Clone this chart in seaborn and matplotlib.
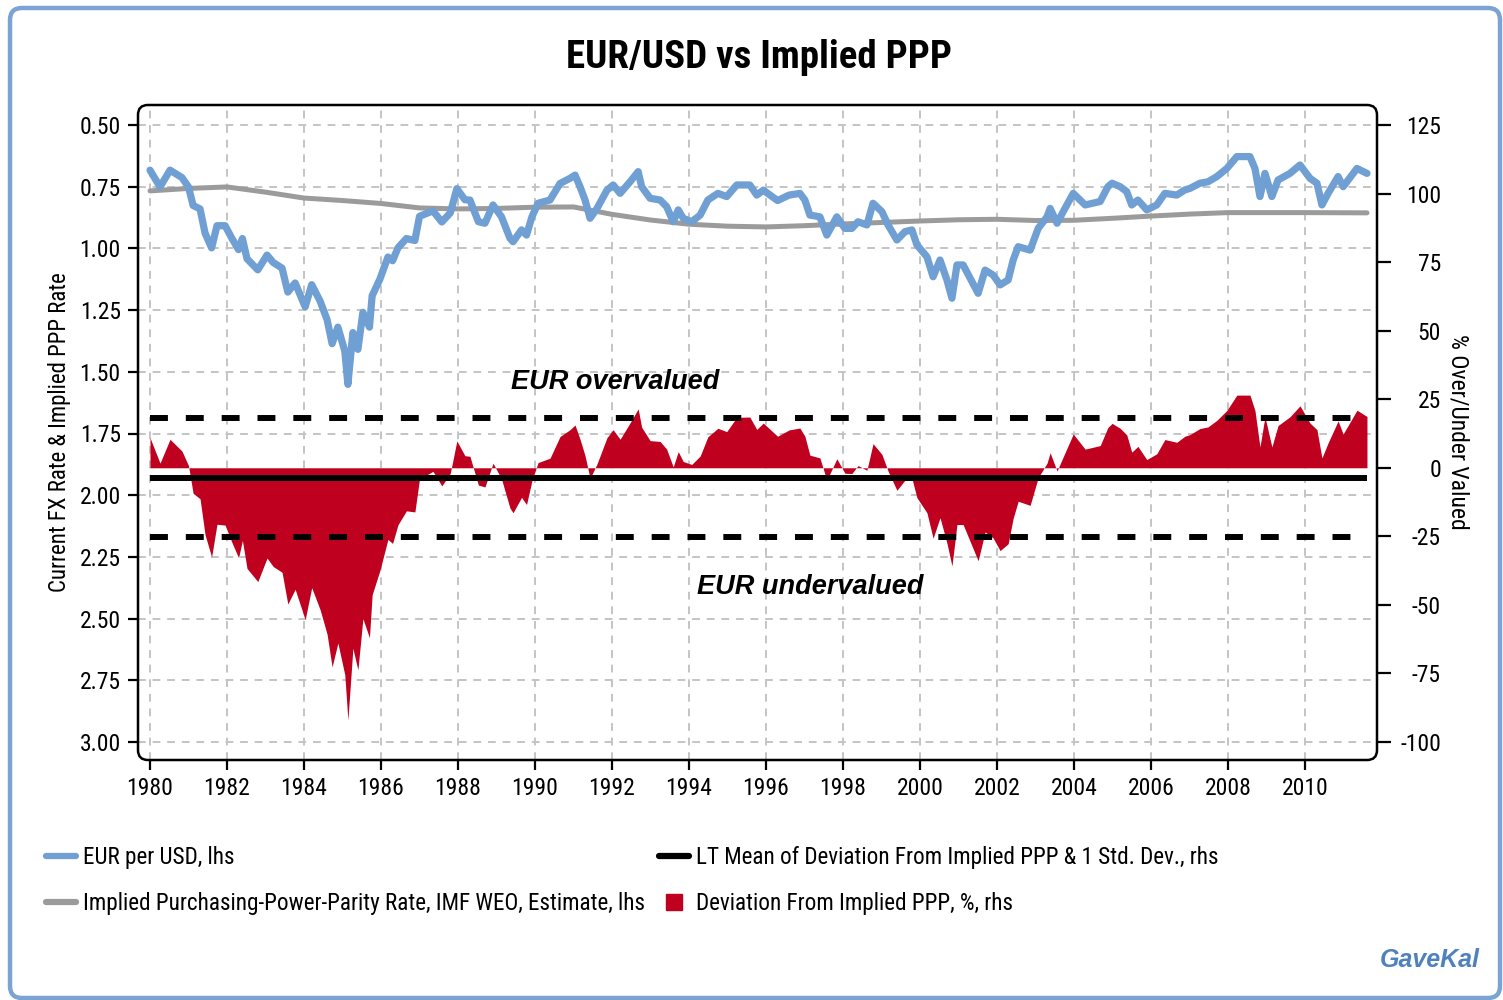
import numpy as np
import pandas as pd
import matplotlib
matplotlib.use("Agg")
import matplotlib.pyplot as plt
import seaborn as sns
from matplotlib import font_manager
from matplotlib.patches import FancyBboxPatch
from matplotlib.lines import Line2D

# ---------------- data ----------------
dates = [1980.00, 1980.26, 1980.52, 1980.83, 1981.00, 1981.12, 1981.30, 1981.43, 1981.60, 1981.74,
         1981.95, 1982.13, 1982.30, 1982.40, 1982.52, 1982.80, 1983.04, 1983.20, 1983.43, 1983.58,
         1983.77, 1984.03, 1984.20, 1984.42, 1984.60, 1984.73, 1984.88, 1985.06, 1985.14, 1985.27,
         1985.40, 1985.53, 1985.70, 1985.77, 1985.97, 1986.18, 1986.30, 1986.44, 1986.66, 1986.88,
         1987.00, 1987.35, 1987.58, 1987.80, 1987.97, 1988.18, 1988.31, 1988.53, 1988.70, 1988.91,
         1989.13, 1989.35, 1989.43, 1989.65, 1989.78, 1989.92, 1990.08, 1990.39, 1990.65, 1990.91,
         1991.04, 1991.17, 1991.30, 1991.43, 1991.61, 1991.87, 1992.03, 1992.21, 1992.47, 1992.68,
         1992.77, 1992.99, 1993.25, 1993.42, 1993.59, 1993.72, 1993.85, 1994.07, 1994.29, 1994.49,
         1994.75, 1994.98, 1995.24, 1995.58, 1995.76, 1995.93, 1996.30, 1996.60, 1996.88, 1997.01,
         1997.14, 1997.40, 1997.58, 1997.84, 1998.05, 1998.23, 1998.39, 1998.62, 1998.78, 1999.01,
         1999.17, 1999.40, 1999.61, 1999.79, 1999.92, 2000.18, 2000.34, 2000.52, 2000.70, 2000.83,
         2000.96, 2001.12, 2001.35, 2001.51, 2001.69, 2001.90, 2002.08, 2002.29, 2002.42, 2002.55,
         2002.86, 2003.07, 2003.30, 2003.38, 2003.56, 2003.72, 2003.98, 2004.29, 2004.68, 2004.88,
         2004.99, 2005.20, 2005.37, 2005.50, 2005.66, 2005.89, 2006.15, 2006.36, 2006.67, 2006.88,
         2007.01, 2007.27, 2007.48, 2007.71, 2007.97, 2008.23, 2008.57, 2008.70, 2008.83, 2008.96,
         2009.14, 2009.30, 2009.61, 2009.87, 2010.13, 2010.31, 2010.44, 2010.60, 2010.86, 2010.99,
         2011.35, 2011.61]

eur_per_usd = [0.683, 0.751, 0.683, 0.713, 0.751, 0.826, 0.840, 0.938, 0.998, 0.908,
               0.908, 0.960, 1.005, 0.960, 1.042, 1.087, 1.027, 1.057, 1.080, 1.177,
               1.140, 1.237, 1.147, 1.214, 1.289, 1.386, 1.319, 1.416, 1.551, 1.341,
               1.409, 1.259, 1.319, 1.192, 1.125, 1.035, 1.050, 0.998, 0.960, 0.968,
               0.870, 0.848, 0.893, 0.856, 0.758, 0.803, 0.804, 0.892, 0.898, 0.824,
               0.872, 0.959, 0.973, 0.925, 0.946, 0.872, 0.817, 0.804, 0.737, 0.716,
               0.703, 0.750, 0.804, 0.878, 0.838, 0.764, 0.743, 0.777, 0.730, 0.689,
               0.750, 0.797, 0.804, 0.831, 0.892, 0.844, 0.878, 0.892, 0.865, 0.804,
               0.777, 0.790, 0.743, 0.743, 0.784, 0.764, 0.806, 0.784, 0.777, 0.804,
               0.865, 0.872, 0.946, 0.872, 0.919, 0.919, 0.892, 0.905, 0.817, 0.851,
               0.905, 0.966, 0.932, 0.925, 0.986, 1.034, 1.115, 1.047, 1.128, 1.202,
               1.067, 1.067, 1.135, 1.182, 1.088, 1.108, 1.148, 1.128, 1.047, 0.993,
               1.007, 0.919, 0.872, 0.838, 0.898, 0.851, 0.777, 0.824, 0.810, 0.750,
               0.736, 0.750, 0.770, 0.824, 0.804, 0.844, 0.824, 0.777, 0.784, 0.763,
               0.757, 0.736, 0.730, 0.709, 0.676, 0.628, 0.628, 0.676, 0.790, 0.696,
               0.790, 0.723, 0.696, 0.662, 0.716, 0.736, 0.824, 0.777, 0.709, 0.750,
               0.676, 0.696]

deviation_pct = [11.0, 1.7, 10.4, 6.1, 0.8, -9.3, -11.3, -24.4, -32.5, -20.6,
                 -20.9, -27.3, -32.8, -26.5, -36.7, -41.5, -32.9, -36.0, -38.1, -49.7,
                 -44.3, -55.4, -43.7, -51.8, -60.7, -72.6, -63.9, -75.5, -92.0, -65.8,
                 -73.7, -55.0, -62.0, -46.3, -37.5, -26.1, -27.6, -20.8, -15.7, -16.1,
                 -4.1, -1.3, -6.6, -2.0, 9.8, 4.4, 4.2, -6.3, -7.0, 1.7,
                 -4.1, -14.7, -16.4, -10.8, -13.4, -4.7, 1.9, 3.5, 11.4, 13.9,
                 15.6, 10.4, 4.4, -3.9, 1.4, 11.0, 13.9, 10.4, 16.4, 21.5,
                 14.8, 9.9, 9.6, 6.8, 0.3, 5.9, 2.3, 1.2, 4.3, 11.3,
                 14.4, 13.2, 18.4, 18.5, 14.0, 16.3, 11.5, 13.8, 14.5, 11.5,
                 4.6, 3.6, -4.6, 3.3, -2.0, -2.1, 0.8, -0.9, 8.8, 4.9,
                 -1.2, -8.2, -4.5, -3.9, -10.9, -16.4, -25.7, -18.2, -27.5, -35.8,
                 -20.7, -20.7, -28.5, -33.9, -23.4, -25.6, -30.2, -27.7, -18.4, -12.2,
                 -13.7, -3.6, 1.7, 5.5, -1.2, 4.0, 12.3, 6.8, 8.1, 14.7,
                 16.2, 14.4, 12.0, 5.7, 7.8, 3.0, 5.1, 10.3, 9.3, 11.5,
                 12.1, 14.3, 14.9, 17.3, 20.9, 26.5, 26.5, 20.9, 7.6, 18.6,
                 7.6, 15.4, 18.6, 22.6, 16.3, 13.9, 3.6, 9.1, 17.1, 12.3,
                 21.0, 18.7]

ppp_years = [1980, 1981, 1982, 1983, 1984, 1985, 1986, 1987, 1988, 1989,
             1990, 1991, 1992, 1993, 1994, 1995, 1996, 1997, 1998, 1999,
             2000, 2001, 2002, 2003, 2004, 2005, 2006, 2007, 2008, 2009,
             2010, 2011.61]
ppp_rate = [0.767, 0.757, 0.751, 0.772, 0.796, 0.806, 0.818, 0.836, 0.840, 0.838,
            0.833, 0.832, 0.862, 0.885, 0.902, 0.910, 0.913, 0.908, 0.901, 0.895,
            0.889, 0.884, 0.882, 0.887, 0.886, 0.878, 0.869, 0.861, 0.855, 0.855,
            0.855, 0.856]

lt_mean = -3.6
lt_std = 21.7

year_ticks = list(range(1980, 2011, 2))
left_ticks = [0.50, 0.75, 1.00, 1.25, 1.50, 1.75, 2.00, 2.25, 2.50, 2.75, 3.00]
right_ticks = [125, 100, 75, 50, 25, 0, -25, -50, -75, -100]

# ---------------- style ----------------
sns.set_theme(style="white")
names = {f.name for f in font_manager.fontManager.ttflist}
MAIN = None
for cand in ["Liberation Sans Narrow", "Roboto Condensed", "Liberation Sans", "DejaVu Sans"]:
    if cand in names:
        MAIN = cand
        break
plt.rcParams["font.family"] = [MAIN, "DejaVu Sans"]
FAM = [MAIN, "DejaVu Sans"]
ITAL = "Liberation Sans" if "Liberation Sans" in names else "DejaVu Sans"

BLUE = "#6f9fd3"
GRAY = "#9b9b9b"
RED = "#c0001f"
GRID = "#c4c4c4"
FRAME = "#7ba3d3"
TXT = "black"

fig = plt.figure(figsize=(15.03, 10.0), dpi=100)
ax = fig.add_axes([138 / 1503, 1 - 760 / 1000, (1377 - 138) / 1503, (760 - 105) / 1000])
ax2 = ax.twinx()

df_fx = pd.DataFrame({"date": dates, "fx": eur_per_usd, "dev": deviation_pct})
df_ppp = pd.DataFrame({"year": ppp_years, "ppp": ppp_rate})

# grid (left axis)
for yv in left_ticks:
    ax.axhline(yv, color=GRID, lw=1.4, dashes=(4, 3.5), zorder=0)
for xv in year_ticks:
    ax.axvline(xv, color=GRID, lw=1.4, dashes=(4, 3.5), zorder=0)

# lines on left axis
sns.lineplot(data=df_ppp, x="year", y="ppp", ax=ax, color=GRAY, lw=3.6, estimator=None,
             zorder=3, legend=False)
sns.lineplot(data=df_fx, x="date", y="fx", ax=ax, color=BLUE, lw=5.2, estimator=None,
             zorder=4, legend=False)

# deviation on right axis
ax2.fill_between(df_fx["date"], 0, df_fx["dev"], color=RED, lw=0, zorder=2)
x0, x1 = dates[0], dates[-1]
ax2.hlines(lt_mean, x0, x1, color="black", lw=4.3, zorder=3)
for yv in (lt_mean + lt_std, lt_mean - lt_std):
    ax2.hlines(yv, x0, x1, color="black", lw=4.3, linestyles=(0, (3, 3)), zorder=3)

# limits
ax.set_xlim(1980 - 12 / 38.5, 1980 + 1227 / 38.5)
ax.set_ylim(3.0 + 18 / 246.8, 0.5 - 20 / 246.8)
ax2.set_ylim(-100 - 18 / 2.742, 125 + 20 / 2.742)

ax.set_xticks(year_ticks)
ax.set_xticklabels([str(y) for y in year_ticks])
ax.set_yticks(left_ticks)
ax.set_yticklabels([f"{v:.2f}" for v in left_ticks])
ax2.set_yticks(right_ticks)
ax2.set_yticklabels([str(v) for v in right_ticks])
ax.set_xlabel("")
ax.set_ylabel("")
ax2.set_ylabel("")

for a in (ax, ax2):
    for s in a.spines.values():
        s.set_visible(False)
    a.grid(False)

TICK_FS = 17
ax.tick_params(axis="x", direction="out", length=7.5, width=1.6, color="black", pad=5,
               labelsize=TICK_FS, labelcolor=TXT, bottom=True)
ax.tick_params(axis="y", direction="out", length=7.5, width=1.6, color="black", pad=5,
               labelsize=TICK_FS, labelcolor=TXT, left=True)
ax2.tick_params(axis="y", direction="out", length=10, width=1.6, color="black", pad=36,
                labelsize=TICK_FS, labelcolor=TXT, right=True)
for lab in ax2.get_yticklabels():
    lab.set_horizontalalignment("right")

# rounded plot-area frame
frame = FancyBboxPatch((0, 0), 1, 1, boxstyle="round,pad=0,rounding_size=0.008",
                       mutation_aspect=1239 / 655, transform=ax.transAxes,
                       fill=False, ec="black", lw=1.8, clip_on=False, zorder=10)
ax2.add_patch(frame)

# annotations
ax2.text(1980 + 465 / 38.5, 125 - 257 / 2.742, "EUR overvalued", ha="center", va="center",
         fontsize=19.5, fontweight="bold", fontstyle="italic", family=ITAL, color="black", zorder=6)
ax2.text(1980 + 660 / 38.5, 125 - 462 / 2.742, "EUR undervalued", ha="center", va="center",
         fontsize=19.5, fontweight="bold", fontstyle="italic", family=ITAL, color="black", zorder=6)

# titles / axis labels
fig.text(759 / 1503, 1 - 58 / 1000, "EUR/USD vs Implied PPP", ha="center", va="center",
         fontsize=28, fontweight="bold", family=FAM, color="black")
fig.text(60 / 1503, 1 - 432 / 1000, "Current FX Rate & Implied PPP Rate", rotation=90,
         ha="center", va="center", fontsize=16.5, family=FAM, color=TXT)
fig.text(1458 / 1503, 1 - 432 / 1000, "% Over/Under Valued", rotation=-90,
         ha="center", va="center", fontsize=17, family=FAM, color=TXT)
fig.text(1430 / 1503, 1 - 960 / 1000, "GaveKal", ha="center", va="center", fontsize=18,
         fontweight="bold", fontstyle="italic", family=ITAL, color="#4f81bd")

# legends
lprops = font_manager.FontProperties(family=FAM, size=16.7)
h1 = [Line2D([], [], color=BLUE, lw=4.5), Line2D([], [], color=GRAY, lw=4.5)]
l1 = ["EUR per USD, lhs", "Implied Purchasing-Power-Parity Rate, IMF WEO, Estimate, lhs"]
h2 = [Line2D([], [], color="black", lw=4.5),
      Line2D([], [], color=RED, marker="s", markersize=11, linestyle="none")]
l2 = ["LT Mean of Deviation From Implied PPP & 1 Std. Dev., rhs", "Deviation From Implied PPP, %, rhs"]
leg1 = fig.legend(h1, l1, loc="upper left", bbox_to_anchor=(46 / 1503, 1 - 846 / 1000),
                  frameon=False, prop=lprops, handlelength=1.3, handletextpad=0.3,
                  labelspacing=1.0, borderpad=0, borderaxespad=0)
leg2 = fig.legend(h2, l2, loc="upper left", bbox_to_anchor=(659 / 1503, 1 - 846 / 1000),
                  frameon=False, prop=lprops, handlelength=1.3, handletextpad=0.3,
                  labelspacing=1.0, borderpad=0, borderaxespad=0)
for lg in (leg1, leg2):
    for t in lg.get_texts():
        t.set_color(TXT)

# outer rounded border
border = FancyBboxPatch((10 / 1503, 2 / 1000), 1490 / 1503, 990 / 1000,
                        boxstyle="round,pad=0,rounding_size=0.008", mutation_aspect=1.503,
                        transform=fig.transFigure, fill=False, ec=FRAME, lw=3.2)
fig.patches.append(border)

fig.savefig("out.png", dpi=100)
